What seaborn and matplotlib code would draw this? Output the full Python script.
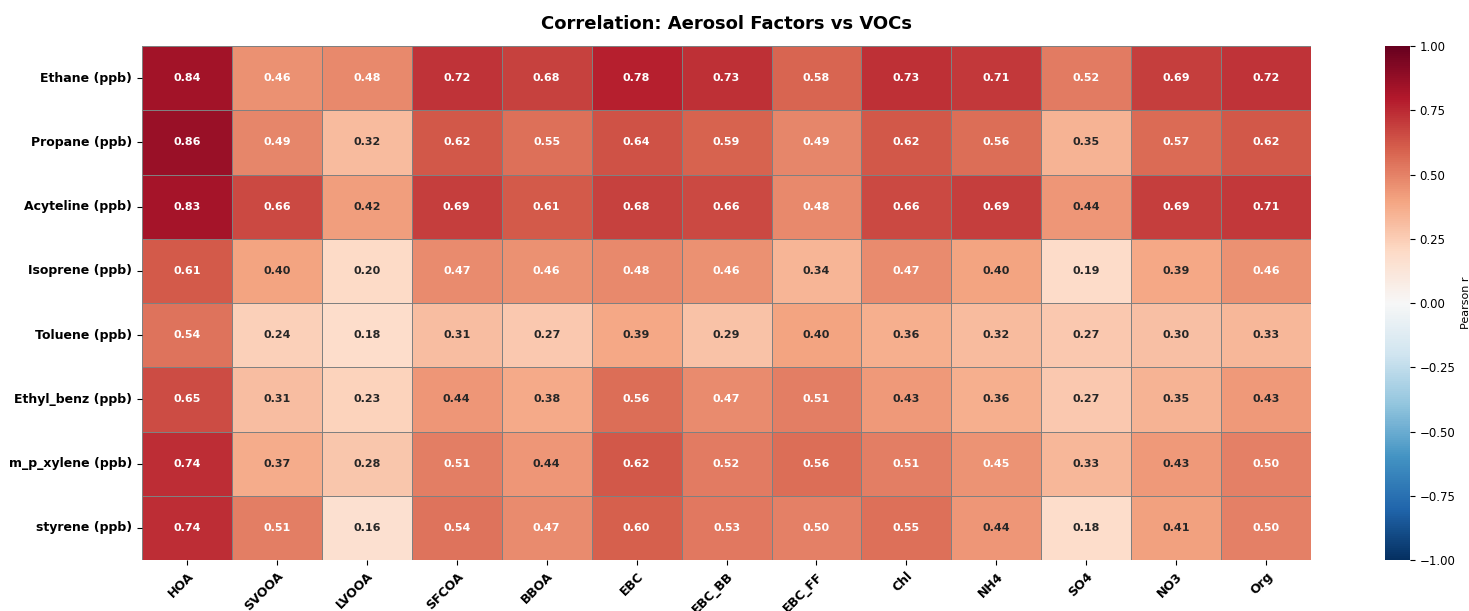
import numpy as np
import pandas as pd
import matplotlib
matplotlib.use("Agg")
import matplotlib.pyplot as plt
import seaborn as sns

vocs = ["Ethane (ppb)", "Propane (ppb)", "Acyteline (ppb)", "Isoprene (ppb)",
        "Toluene (ppb)", "Ethyl_benz (ppb)", "m_p_xylene (ppb)", "styrene (ppb)"]
factors = ["HOA", "SVOOA", "LVOOA", "SFCOA", "BBOA", "EBC", "EBC_BB", "EBC_FF",
           "Chl", "NH4", "SO4", "NO3", "Org"]

ethane = [0.84, 0.46, 0.48, 0.72, 0.68, 0.78, 0.73, 0.58, 0.73, 0.71, 0.52, 0.69, 0.72]
propane = [0.86, 0.49, 0.32, 0.62, 0.55, 0.64, 0.59, 0.49, 0.62, 0.56, 0.35, 0.57, 0.62]
acyteline = [0.83, 0.66, 0.42, 0.69, 0.61, 0.68, 0.66, 0.48, 0.66, 0.69, 0.44, 0.69, 0.71]
isoprene = [0.61, 0.40, 0.20, 0.47, 0.46, 0.48, 0.46, 0.34, 0.47, 0.40, 0.19, 0.39, 0.46]
toluene = [0.54, 0.24, 0.18, 0.31, 0.27, 0.39, 0.29, 0.40, 0.36, 0.32, 0.27, 0.30, 0.33]
ethyl_benz = [0.65, 0.31, 0.23, 0.44, 0.38, 0.56, 0.47, 0.51, 0.43, 0.36, 0.27, 0.35, 0.43]
m_p_xylene = [0.74, 0.37, 0.28, 0.51, 0.44, 0.62, 0.52, 0.56, 0.51, 0.45, 0.33, 0.43, 0.50]
styrene = [0.74, 0.51, 0.16, 0.54, 0.47, 0.60, 0.53, 0.50, 0.55, 0.44, 0.18, 0.41, 0.50]

corr = pd.DataFrame([ethane, propane, acyteline, isoprene, toluene,
                     ethyl_benz, m_p_xylene, styrene],
                    index=vocs, columns=factors)

fig = plt.figure(figsize=(14.69, 6.11), dpi=100)
ax = fig.add_axes([0.0967, 0.0834, 0.7958, 0.8413])
cax = fig.add_axes([0.9428, 0.0834, 0.017, 0.8413])

sns.heatmap(corr, ax=ax, cbar_ax=cax, cmap="RdBu_r", vmin=-1, vmax=1, center=0,
            annot=True, fmt=".2f", annot_kws={"fontsize": 8, "fontweight": "bold"},
            linewidths=0.5, linecolor="gray")

ax.set_title("Correlation: Aerosol Factors vs VOCs", fontsize=13, fontweight="bold", pad=12)
ax.set_xlabel("")
ax.set_ylabel("")
ax.set_xticklabels(ax.get_xticklabels(), rotation=45, ha="right",
                   fontsize=9, fontweight="bold", rotation_mode="anchor")
ax.set_yticklabels(ax.get_yticklabels(), rotation=0, fontsize=9, fontweight="bold")
cax.tick_params(labelsize=8.5)
cax.set_ylabel("Pearson r", fontsize=8, labelpad=4)

fig.savefig("out.png", dpi=100)
